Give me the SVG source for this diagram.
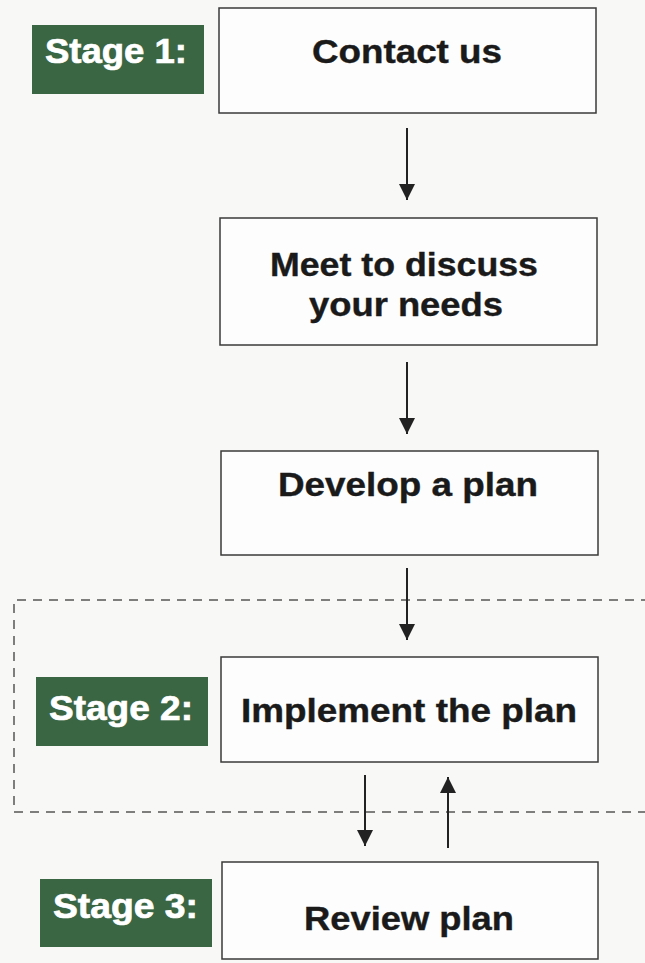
<svg xmlns="http://www.w3.org/2000/svg" width="645" height="963" viewBox="0 0 645 963">
<defs>
<style>
.box{fill:#fdfdfd;stroke:#3a3a3a;stroke-width:1.5}
.stage{fill:#3b6644}
.stxt{font-family:"Liberation Sans",Arial,sans-serif;font-weight:bold;font-size:35px;fill:#ffffff;stroke:#ffffff;stroke-width:0.7}
.txt{font-family:"Liberation Sans",Arial,sans-serif;font-weight:bold;font-size:33px;fill:#1a1a1a;stroke:#1a1a1a;stroke-width:0.4;text-anchor:middle}
.arr{stroke:#222;stroke-width:2;fill:none}
.dash{fill:none;stroke:#555;stroke-width:1.5;stroke-dasharray:9 7}
</style>
<marker id="ah" viewBox="0 0 10 10" refX="10" refY="5" markerWidth="8" markerHeight="8" markerUnits="strokeWidth" orient="auto">
<path d="M0,0 L10,5 L0,10 Z" fill="#222"/>
</marker>
</defs>
<rect width="645" height="963" fill="#f8f8f7"/>
<g id="stage2-region">
<path class="dash" d="M650,600 H14 V812 H650"/>
</g>
<g id="stage1">
<rect class="stage" x="32" y="25" width="172" height="69"/>
<text class="stxt" x="45" y="63" textLength="142" lengthAdjust="spacingAndGlyphs">Stage 1:</text>
</g>
<g id="stage2">
<rect class="stage" x="36" y="677" width="172" height="69"/>
<text class="stxt" x="49" y="720" textLength="144" lengthAdjust="spacingAndGlyphs">Stage 2:</text>
</g>
<g id="stage3">
<rect class="stage" x="40" y="879" width="172" height="68"/>
<text class="stxt" x="53" y="918" textLength="145" lengthAdjust="spacingAndGlyphs">Stage 3:</text>
</g>
<g id="contact">
<rect class="box" x="219" y="8" width="377" height="105"/>
<text class="txt" x="407" y="63" textLength="190" lengthAdjust="spacingAndGlyphs">Contact us</text>
</g>
<g id="meet">
<rect class="box" x="220" y="218" width="377" height="127"/>
<text class="txt" x="404" y="276" textLength="268" lengthAdjust="spacingAndGlyphs">Meet to discuss</text>
<text class="txt" x="406" y="316" textLength="194" lengthAdjust="spacingAndGlyphs">your needs</text>
</g>
<g id="develop">
<rect class="box" x="221" y="451" width="377" height="104"/>
<text class="txt" x="408" y="496" textLength="260" lengthAdjust="spacingAndGlyphs">Develop a plan</text>
</g>
<g id="implement">
<rect class="box" x="221" y="657" width="377" height="105"/>
<text class="txt" x="409" y="722" textLength="336" lengthAdjust="spacingAndGlyphs">Implement the plan</text>
</g>
<g id="review">
<rect class="box" x="222" y="862" width="376" height="97"/>
<text class="txt" x="409" y="930" textLength="210" lengthAdjust="spacingAndGlyphs">Review plan</text>
</g>
<g id="connectors">
<line class="arr" x1="407" y1="128" x2="407" y2="200" marker-end="url(#ah)"/>
<line class="arr" x1="407" y1="362" x2="407" y2="434" marker-end="url(#ah)"/>
<line class="arr" x1="407" y1="568" x2="407" y2="640" marker-end="url(#ah)"/>
<line class="arr" x1="365" y1="775" x2="365" y2="846" marker-end="url(#ah)"/>
<line class="arr" x1="448" y1="848" x2="448" y2="777" marker-end="url(#ah)"/>
</g>
</svg>
